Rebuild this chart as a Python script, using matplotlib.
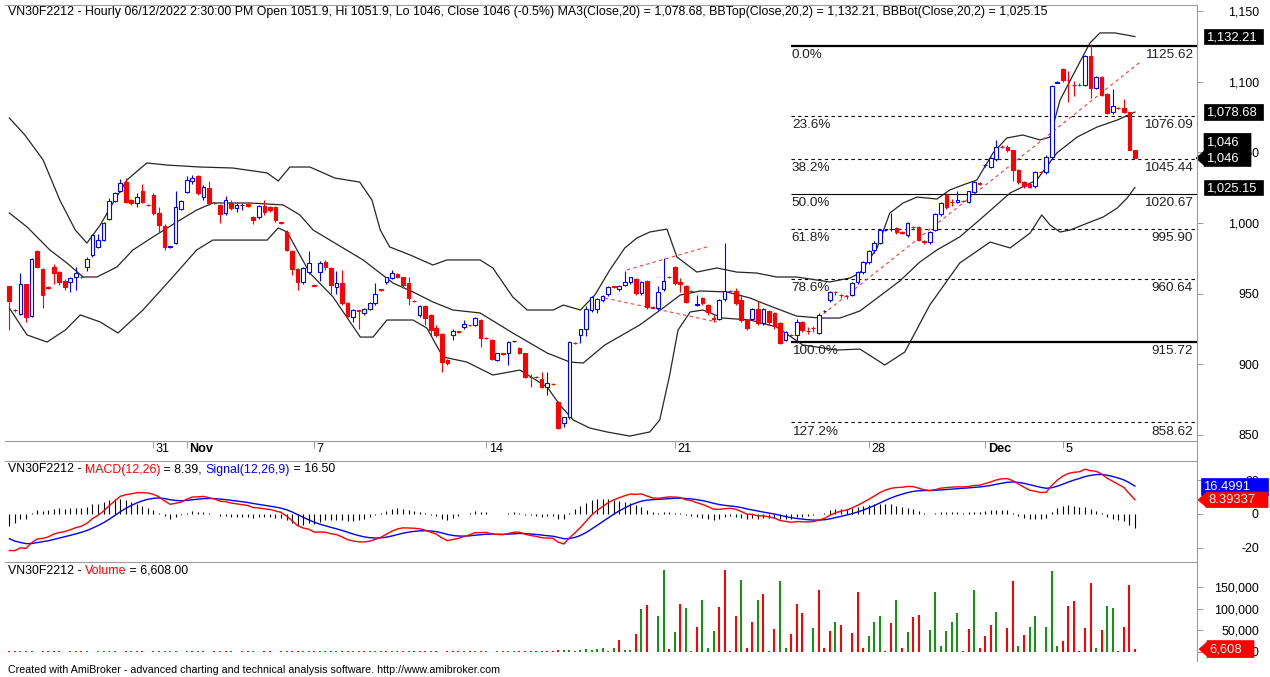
import numpy as np
import matplotlib
matplotlib.use('Agg')
import matplotlib.pyplot as plt
from matplotlib.patches import Polygon
from matplotlib.lines import Line2D
from matplotlib.ticker import FuncFormatter, FixedLocator
from matplotlib.transforms import blended_transform_factory

plt.rcParams['font.family'] = ['Liberation Sans', 'DejaVu Sans']

# ---------------- data (hourly bars VN30F2212) ----------------
opens = [955.3, 938.5, 935.5, 956.7, 934, 980, 967.4, 954.5, 968.8, 965, 959, 958, 961.7, 962, 968.8, 977.3, 983, 988, 1003, 1015.6,
         1023, 1029, 1016, 1014, 1022.7, 1013, 1020, 1007, 998, 983, 986, 1010, 1022, 1030, 1033, 1018.4, 1025, 1014.5, 1012.8, 1007,
         1014, 1010.6, 1012.6, 1013.5, 1004, 1004, 1012, 1011, 1011, 1000.5, 993.6, 980, 967.4, 958, 965, 956, 965, 972, 968, 954.6,
         957.4, 943.3, 933.3, 938, 936, 939, 943.3, 953, 958, 961, 963.8, 961.7, 957.4, 945, 934.8, 941, 934.8, 925.5, 921, 902.8,
         920.6, 923.2, 926, 927.8, 927.6, 931, 918.6, 917, 902.8, 907.8, 907.8, 916, 911.3, 907.8, 891, 891, 889.4, 883.7, 886, 873,
         858, 862.4, 915.2, 920.6, 924.8, 938.3, 939, 945.4, 949.6, 955, 953, 956, 958, 960.3, 950.4, 958.9, 940.5, 939.7, 953, 962,
         968.8, 958, 955.3, 952, 942, 946.8, 941.8, 932.4, 932, 946, 952, 951.8, 945.4, 931.2, 932, 939, 929, 937.6, 936, 929,
         917, 920.8, 920.6, 929.8, 923.6, 925.7, 922, 937.4, 945.4, 951.2, 949.2, 948.2, 949, 958, 965, 972, 981, 986, 995, 995.5,
         996.5, 993.4, 991.5, 997.2, 997, 987, 986.5, 995, 1006.4, 1020, 1015, 1015, 1015.8, 1015, 1022, 1028.4, 1040.8, 1040, 1045.4, 1054.2,
         1054, 1051.8, 1037.6, 1029, 1027.6, 1026, 1036.2, 1036, 1046.8, 1099.3, 1109, 1101.6, 1098.2, 1098.2, 1098, 1118.4, 1095.7, 1103.5, 1091.5, 1078.7,
         1081.7, 1081.5, 1078.7, 1051.9]
highs = [955.5, 939, 964.5, 957, 975, 981, 968, 955, 971, 966, 960, 961.5, 969, 962.5, 976, 992, 992, 1000.5, 1018, 1022,
         1031, 1032, 1017, 1021, 1028, 1013.5, 1021, 1011, 999, 984, 1022.7, 1016, 1033, 1034, 1034, 1027, 1030, 1015, 1013.5, 1019,
         1016.5, 1014, 1014, 1014, 1005, 1013, 1016, 1012, 1012, 1001, 995, 981, 968, 969, 980, 956.5, 973, 974, 969, 966,
         966.7, 944, 939, 938.5, 940, 944, 957.4, 953.5, 962, 967, 964.5, 962, 962, 945.5, 942, 942, 935.5, 928, 922, 903.5,
         925, 923.5, 931, 928, 933, 932, 919, 918, 908, 908, 916, 916.5, 912, 908, 893, 891.5, 894, 894, 886.5, 874,
         862.4, 916, 915.5, 925, 941, 948, 947, 949, 955, 955.5, 956, 966, 962, 961, 959, 959.5, 941, 955, 975, 962.5,
         969.5, 961, 956, 952.5, 949, 947.5, 942.5, 935, 946, 986, 952.5, 954, 949, 932, 940, 945, 940, 938.5, 937, 930,
         923.5, 921, 932, 930.5, 926, 927, 936, 938, 952, 952, 950, 949, 958, 966, 973, 981, 987, 996, 996, 1007,
         997, 994, 1001, 998, 998, 988, 994, 1007, 1015, 1021, 1017, 1023, 1016, 1023, 1030, 1029, 1041.5, 1047, 1059, 1055,
         1055, 1052, 1038, 1030, 1028, 1037, 1037, 1048, 1098, 1101, 1110, 1108, 1101, 1099, 1119, 1127, 1104, 1104, 1092, 1095,
         1082, 1088, 1079, 1051.9]
lows = [924, 937, 935, 929.8, 933, 968, 940, 953.5, 957, 956, 952.5, 951, 952.5, 961, 966, 976, 982, 987, 1002, 1015,
        1022, 1014, 1013, 1011, 1014, 1012, 1006, 993.6, 981, 982.5, 985, 1009, 1021, 1028, 1020, 1016, 1013, 1013.5, 1000, 1006,
        1009, 1008, 1009, 1011, 999, 1003, 1006, 1008, 1001, 999.5, 980, 963, 952.5, 957, 964, 955, 959, 967, 950, 950,
        942, 933, 929.8, 925, 935, 938, 942, 952, 957, 960, 961, 954, 942, 944, 933, 928, 920, 919, 894.3, 899.5,
        917, 922, 925, 927, 927, 912, 918, 903, 902, 906.5, 899, 915.5, 907, 890, 884, 890, 883, 878, 885, 854,
        855, 861, 914, 915, 920, 937, 936, 944, 948, 954, 952, 955, 957, 949, 949, 939, 939.5, 938, 952, 961,
        956, 951, 943, 951.5, 941, 942, 935, 930, 931, 945, 951, 942, 930, 924, 931, 928, 928, 928, 925, 914,
        916, 920, 915, 923, 921, 923, 921, 937, 944, 949, 947, 946, 948, 957, 964, 971, 979, 985, 994, 994,
        992, 992, 990, 996, 987, 985, 985, 994, 1005, 1010, 1012, 1014, 1015, 1014, 1021, 1027, 1040, 1039, 1044, 1053,
        1050, 1030, 1028, 1025, 1024.5, 1025, 1035.5, 1035, 1046, 1099, 1100, 1086, 1090, 1097.5, 1097, 1089, 1095, 1090, 1077, 1077.5,
        1081, 1078, 1051.5, 1046]
closes = [944.7, 938, 956.7, 933.3, 974.5, 969, 949, 954, 964.5, 958, 954.6, 961, 964.5, 961.7, 974.5, 991.5, 988, 1000, 1015.6, 1021,
          1028.4, 1015, 1014, 1018.4, 1015, 1012.8, 1007, 998.6, 983, 983.5, 1011.3, 1015.6, 1030.5, 1032, 1021, 1025.5, 1014, 1014, 1006.4, 1016.3,
          1010.6, 1012.8, 1012.8, 1012, 1002, 1012, 1008, 1009, 1002, 1000, 981, 967.4, 958, 968, 971.6, 955.3, 971.6, 969, 956, 957.4,
          943.3, 934, 938.3, 937.6, 939, 943.3, 949.6, 952.5, 961.7, 964.5, 961.7, 956, 946.8, 944.7, 941, 932.6, 924, 920.6, 901.4, 900.7,
          923.4, 923, 928.4, 927.6, 932.6, 918.4, 918.4, 903.5, 907.8, 907, 915.6, 916.3, 907.8, 890.8, 890.8, 890.8, 883.7, 886.5, 885.8, 854.6,
          862.4, 915.6, 915, 924.8, 939, 947.5, 946, 948.2, 954.6, 954.6, 955.3, 958.2, 961.7, 950.4, 958.2, 940.4, 940, 951, 958.9, 961.7,
          957.4, 956.5, 944, 951.8, 942.5, 943.3, 936.9, 932, 945.4, 951.8, 951.8, 943.3, 931.2, 925.5, 939, 929, 939, 929.8, 927, 915,
          922.7, 920.6, 929.8, 924.1, 923.4, 925.5, 934.8, 937.6, 951, 951, 949, 948, 957.4, 965, 972, 980, 986, 995, 995.2, 996,
          993.6, 993.2, 1000, 997, 988, 986.8, 993.6, 1006.4, 1014, 1011.3, 1014.8, 1016, 1015.6, 1022.7, 1029, 1028, 1041, 1046, 1054, 1054,
          1052, 1037.6, 1029, 1026, 1025.5, 1036, 1036, 1046.8, 1097, 1100, 1101.4, 1101.4, 1098, 1098, 1118.4, 1095.7, 1103.5, 1090.8, 1078, 1083,
          1081.5, 1078.7, 1051.8, 1046]

# volume in thousands of contracts, and colour flag per bar (g = up volume, r = down volume)
volume_k = [1.5, 1.5, 1.5, 1.5, 1.5, 0, 1.5, 1.5, 1.5, 1.5, 0, 1.5, 1.5, 1.5, 1.5, 0, 1.5, 1.5, 1.5, 1.5,
            0, 1.5, 1.5, 1.5, 1.5, 0, 1.5, 1.5, 1.5, 1.5, 1.5, 0, 1.5, 1.5, 1.5, 1.5, 0, 1.5, 1.5, 1.5,
            1.5, 0, 1.5, 1.5, 1.5, 0, 1.5, 1.5, 0, 1.5, 1.5, 1.5, 1.5, 1.5, 1.5, 1.5, 1.5, 1.5, 1.5, 1.5,
            1.5, 1.5, 1.5, 1.5, 1.5, 1.5, 1.5, 1.5, 1.5, 1.5, 1.5, 1.5, 1.5, 1.5, 1.5, 1.5, 1.5, 1.5, 0, 1.5,
            1.5, 1.5, 1.5, 1.5, 1.5, 1.5, 1.5, 0, 1.5, 1.5, 1.5, 1.5, 1.5, 1.5, 1.5, 1.5, 3, 3, 1.5, 5,
            4, 4, 1.5, 5, 8, 4, 8, 10, 1.5, 10, 28, 4, 4, 42, 98, 108, 0, 83, 188, 8,
            45, 111, 101, 2, 57, 119, 9, 48, 104, 188, 2, 83, 165, 9, 68, 119, 134, 2, 53, 163,
            9, 42, 110, 89, 0, 55, 142, 9, 48, 70, 61, 0, 43, 138, 9, 36, 70, 83, 2, 66,
            119, 9, 45, 81, 86, 0, 51, 138, 13, 48, 68, 89, 2, 53, 142, 9, 36, 61, 91, 0,
            55, 163, 13, 38, 58, 83, 0, 58, 186, 13, 25, 106, 117, 2, 55, 158, 9, 51, 105, 102,
            2, 58, 155, 6.608]
vol_dir = ("rrgrgrrrrrrggrggggggrrgrrrrrgggggrgrrrgrgrrrgrrrrr"
           "rrrggrgrrgrrgrrgggrgggrrrrgrrrrrgrgrgrgrggrrrrgrrr"
           "ggggggggggrggrgrrggrgrggrgggrrrrgrrgrrrggrrrggrrrg"
           "rgrrrgggrrgrgrrgggggggrrgrrrggrrgrggrgggrrrrrrgrgg"
           "rrrr")

# Bollinger bands (20,2): (bar, value)
bb_top_bar = [0, 2.8, 6.1, 9.1, 11.9, 14.0, 16.4, 18.7, 21.2, 24.8, 28.4, 34.4, 40.3, 46.5, 48.5, 50.6, 54.2, 58.7, 63.2, 65.4,
              66.9, 68.6, 72.3, 76.4, 78.9, 84.9, 87.2, 90.8, 93.4, 98.1, 99.9, 103, 105.6, 108.3, 111, 113.2, 115.5, 118.6, 120.4, 124,
              127.6, 131.2, 134.8, 138.4, 142, 148, 151.6, 153.4, 156.5, 158.8, 161.2, 163.7, 167.3, 169.6, 172, 174.5, 177.4, 179.9, 182.8, 185.9,
              187.7, 189.5, 192.6, 194.9, 196.7, 199.4, 203]
bb_top = [1074.5, 1062.4, 1044.7, 1016.3, 995, 985.8, 998.6, 1014.2, 1030.5, 1042.6, 1041.1, 1039.7, 1039, 1035.5, 1029.8, 1039.7, 1039.7, 1031.9, 1029, 1016.3,
          995, 983, 977.3, 970.2, 973.8, 973.8, 968.1, 947.5, 938.3, 938.3, 941.8, 938.3, 948.9, 966.7, 982.3, 989.4, 993.6, 995.7, 975.9, 965.2,
          968.1, 965.2, 964.5, 961.7, 961.7, 958.2, 961, 964.5, 982.3, 1007.1, 1014.2, 1018.4, 1017, 1023.4, 1027, 1030.5, 1049.6, 1060.3, 1062.4, 1058.9,
          1061, 1087.2, 1110.6, 1127.7, 1134.8, 1134.8, 1132.21]
bb_mid_bar = [0, 3.2, 7.3, 10.4, 13.3, 15.8, 19.4, 22.3, 25.9, 30.2, 33.8, 36.7, 43.4, 49.4, 52.4, 54.8, 59.3, 63.8, 69.2, 72.8,
              76.4, 80, 84.9, 90.8, 97, 101.1, 103.5, 107.4, 113.7, 117.9, 121, 124.6, 129.4, 133.6, 137.2, 142, 146.2, 149.8, 153.4, 157,
              160.6, 164.2, 167.3, 171.4, 175.6, 180.5, 185.3, 188.9, 192.6, 196.2, 199.8, 203]
bb_mid = [1007.1, 997.2, 980.9, 971.6, 961.7, 961.7, 968.8, 980.9, 990.1, 1000.7, 1009.2, 1014.2, 1014.2, 1012.8, 1005.7, 995, 984.4, 973.8, 957.4, 951.1,
          944, 938.3, 936.2, 922, 907.8, 901.4, 900.7, 913.5, 927.7, 939.7, 948.9, 951.8, 951.1, 946.8, 941.1, 934, 932.6, 932.6, 937.6, 948.2,
          958.9, 972.3, 980.9, 990.1, 1004.3, 1021.3, 1030.5, 1049.6, 1061, 1068.1, 1073, 1078.68]
bb_bot_bar = [0, 3.2, 6.8, 10.1, 12.8, 16.4, 19.6, 24.1, 29, 33.8, 36.7, 46.5, 48.5, 50.1, 54.2, 58.4, 63.3, 65.6, 68.1, 72.8,
              75.3, 78.2, 82.5, 87.2, 92.1, 97, 99.3, 101.7, 104.7, 107.8, 111.9, 115.5, 117.3, 119.1, 120.6, 122.8, 125.1, 128.7, 133.6, 138.4,
              143.1, 149.3, 153.4, 157.9, 161.5, 166, 171.4, 176.9, 180.5, 184.1, 186.2, 187.7, 189.5, 191.3, 193.6, 197.3, 199.8, 201.6, 203]
bb_bot = [939.7, 920.6, 915.6, 924.1, 934.8, 929.8, 922, 938.3, 959.6, 980.9, 987.9, 987.9, 996.5, 993.6, 964.5, 947.5, 919.1, 919.1, 931.2, 931.2,
          925.5, 905, 901.4, 892.2, 895.7, 883.7, 870.9, 860.3, 854.6, 851.8, 848.9, 851.8, 860.3, 892.2, 924.1, 936.9, 938.3, 932.6, 931.2, 926.2,
          913.5, 909.9, 910.6, 899.3, 908.5, 941.8, 971.6, 986.5, 982.3, 992.9, 1005.7, 998.6, 993.6, 995, 998.6, 1004.3, 1010.6, 1017.7, 1025.15]

# Fibonacci retracement (drawn from the swing low to the swing high)
fib_pct = [0.0, 23.6, 38.2, 50.0, 61.8, 78.6, 100.0, 127.2]
fib_val = [1125.62, 1076.09, 1045.44, 1020.67, 995.90, 960.64, 915.72, 858.62]
fib_start_bar = 141

# red dashed trend lines: (bar0, price0, bar1, price1)
trend_lines = [(145.9, 932.6, 203.9, 1114.0),
               (111.4, 966.7, 126.4, 983.7),
               (107.4, 946.8, 127.6, 929.8)]

# MACD(12,26,9) — EMA states just before the first visible bar
ema12_start, ema26_start, signal_start = 962.0, 984.0, -13.0
# last values as printed on the chart
macd_last, signal_last = 8.39337, 16.4991
volume_last = 6608.0

date_tick_bars = [26, 32, 55, 86, 120, 155, 176, 190]
date_tick_labels = ['31', 'Nov', '7', '14', '21', '28', 'Dec', '5']

title_price = ("VN30F2212 - Hourly 06/12/2022 2:30:00 PM Open 1051.9, Hi 1051.9, Lo 1046, Close 1046 (-0.5%) "
               "MA3(Close,20) = 1,078.68, BBTop(Close,20,2) = 1,132.21, BBBot(Close,20,2) = 1,025.15")

# ---------------- figure ----------------
W, H = 1270, 677
fig = plt.figure(figsize=(W / 100, H / 100), dpi=100)
fig.patch.set_facecolor('white')


def rect(l, t, r, b):
    return [l / W, 1 - b / H, (r - l) / W, (b - t) / H]


ax_p = fig.add_axes(rect(5, 5, 1197, 441))
ax_m = fig.add_axes(rect(5, 461, 1197, 561))
ax_v = fig.add_axes(rect(5, 562, 1197, 660))

N = len(closes)
x = np.arange(N)
o = np.array(opens); h = np.array(highs); l = np.array(lows); c = np.array(closes)
XL = (-0.78, 214.2)

GRID = '#9c9c9c'
FS_T = 8.88     # titles
FS_AX = 8.9     # axis labels
FS_FIB = 9.7
BLUE = '#0000ff'
RED = '#ff0000'
GREEN = '#129612'

for a in (ax_p, ax_m, ax_v):
    a.set_xlim(*XL)
    for s in ('left', 'top', 'bottom'):
        a.spines[s].set_visible(False)
    a.spines['right'].set_visible(False)
    a.yaxis.tick_right()
    a.tick_params(axis='y', which='both', length=4, width=0.7, color=GRID, labelsize=FS_AX, pad=40.5,
                  labelcolor='#000000')
    a.set_xticks([])
    a.patch.set_alpha(0)

ax_p.spines['top'].set_visible(True)
ax_p.spines['bottom'].set_visible(True)
ax_m.spines['top'].set_visible(True)
ax_v.spines['top'].set_visible(True)
for a in (ax_p, ax_m, ax_v):
    for s in ('top', 'bottom'):
        a.spines[s].set_linewidth(0.8)
        a.spines[s].set_color(GRID)

# ---- price pane ----
ax_p.set_ylim(845.4, 1154.6)
ax_p.yaxis.set_major_locator(FixedLocator([850, 900, 950, 1000, 1050, 1100, 1150]))
ax_p.yaxis.set_major_formatter(FuncFormatter(lambda v, p: f'{v:,.0f}'))

up = c >= o
wick_cols = np.where(up, BLUE, RED)
ax_p.vlines(x, l, h, colors=wick_cols, linewidth=0.8, zorder=3)
body_h = np.where(np.abs(c - o) < 0.01, 0.01, c - o)
ax_p.bar(x[up], body_h[up], bottom=o[up], width=0.66, facecolor='white', edgecolor=BLUE,
         linewidth=0.8, zorder=4)
ax_p.bar(x[~up], body_h[~up], bottom=o[~up], width=0.66, facecolor=RED, edgecolor=RED,
         linewidth=0.8, zorder=4)

band_col = '#262626'
ax_p.plot(bb_top_bar, bb_top, color=band_col, lw=0.9, zorder=2)
ax_p.plot(bb_mid_bar, bb_mid, color=band_col, lw=0.9, zorder=2)
ax_p.plot(bb_bot_bar, bb_bot, color=band_col, lw=0.9, zorder=2)

for b0, p0, b1, p1 in trend_lines:
    ax_p.plot([b0, b1], [p0, p1], color='#ff3b3b', lw=0.8, dashes=(3, 3), zorder=2)

for pct, val in zip(fib_pct, fib_val):
    if pct in (0.0, 100.0):
        ax_p.hlines(val, fib_start_bar, XL[1], color='black', lw=1.6, zorder=1)
    elif pct == 50.0:
        ax_p.hlines(val, fib_start_bar, XL[1], color='black', lw=0.8, zorder=1)
    else:
        ax_p.hlines(val, fib_start_bar, XL[1], color='black', lw=0.8, linestyles=(0, (3, 3)), zorder=1)
    ax_p.annotate(f'{pct:.1f}%', xy=(fib_start_bar, val), xytext=(0.5, -2.5), textcoords='offset points',
                  ha='left', va='top', fontsize=FS_FIB, color='#222222', zorder=1)
    ax_p.annotate(f'{val:.2f}', xy=(1.0, val), xycoords=('axes fraction', 'data'), xytext=(-3, -2.5),
                  textcoords='offset points', ha='right', va='top', fontsize=FS_FIB, color='#222222', zorder=1)

# title
ax_p.text(3 / 1192, 1 - 1.5 / 436, title_price, transform=ax_p.transAxes, ha='left', va='top',
          fontsize=FS_T, color='black')

# date axis
ax_p.set_xticks(date_tick_bars)
ax_p.tick_params(axis='x', direction='out', length=5, width=0.7, color=GRID, labelbottom=False)
tr = blended_transform_factory(ax_p.transData, ax_p.transAxes)
for b, lab in zip(date_tick_bars, date_tick_labels):
    ax_p.text(b + 0.45, -0.005, lab, transform=tr, ha='left', va='top', fontsize=FS_AX + 0.2,
              fontweight='bold' if lab.isalpha() else 'normal', color='black')

# ---- MACD pane ----
cl = np.array(closes)
e12 = np.empty(N); e26 = np.empty(N); sig = np.empty(N)
a12, a26, a9 = 2 / 13, 2 / 27, 2 / 10
p12, p26, ps = ema12_start, ema26_start, signal_start
for i in range(N):
    p12 = p12 + a12 * (cl[i] - p12)
    p26 = p26 + a26 * (cl[i] - p26)
    e12[i], e26[i] = p12, p26
    ps = ps + a9 * ((p12 - p26) - ps)
    sig[i] = ps
macd = e12 - e26
hist = macd - sig

ax_m.set_ylim(-28.0, 31.5)
ax_m.yaxis.set_major_locator(FixedLocator([-20, 0, 20]))
ax_m.yaxis.set_major_formatter(FuncFormatter(lambda v, p: f'{v:.0f}'))
ax_m.vlines(x, 0, hist, colors='black', linewidth=0.8, zorder=2)
ax_m.plot(x, sig, color=BLUE, lw=1.0, zorder=3)
ax_m.plot(x, macd, color=RED, lw=1.0, zorder=3)


def multi_text(ax, parts, xf, yf):
    r = fig.canvas.get_renderer()
    xx = xf
    axw = ax.get_window_extent(renderer=r).width
    for s, col in parts:
        t = ax.text(xx, yf, s, transform=ax.transAxes, ha='left', va='top', fontsize=FS_T, color=col)
        bb = t.get_window_extent(renderer=r)
        xx += bb.width / axw


multi_text(ax_m, [('VN30F2212 - ', 'black'), ('MACD(12,26)', RED), (f' = {macd_last:.2f}, ', 'black'),
                  ('Signal(12,26,9)', BLUE), (f' = {signal_last:.2f}', 'black')], 3 / 1192, 1 - 2.5 / 100)

# ---- volume pane ----
vol = np.array(volume_k) * 1000
vcols = [GREEN if d == 'g' else RED for d in vol_dir[:N]]
ax_v.set_ylim(-18400, 207000)
ax_v.yaxis.set_major_locator(FixedLocator([0, 50000, 100000, 150000]))
ax_v.yaxis.set_major_formatter(FuncFormatter(lambda v, p: f'{v:,.0f}'))
ax_v.bar(x, vol, width=0.36, color=vcols, linewidth=0, zorder=2)
multi_text(ax_v, [('VN30F2212 - ', 'black'), ('Volume', RED), (f' = {volume_last:,.2f}', 'black')],
           3 / 1192, 1 - 2.5 / 98)

# right aligned axis labels
for a in (ax_p, ax_m, ax_v):
    for t in a.get_yticklabels():
        t.set_horizontalalignment('right')

# ---- overlay: continuous right axis line and value boxes ----
ov = fig.add_axes([0, 0, 1, 1], zorder=10)
ov.set_xlim(0, W); ov.set_ylim(H, 0); ov.axis('off'); ov.patch.set_alpha(0)
ov.add_line(Line2D([1197, 1197], [5, 661], color=GRID, lw=0.8))


def ypx(ax, v):
    return H - ax.transData.transform((0, v))[1]


def value_box(ax, v, lines, face, x0, x1, arrow=False, h=15.5):
    yc = ypx(ax, v)
    n = len(lines)
    top = yc - h / 2 - (n - 1) * h
    bot = yc + h / 2
    if arrow:
        pts = [(x0, top), (x1, top), (x1, bot), (x0, bot), (x0, yc + 7), (x0 - 8, yc), (x0, yc - 7)]
    else:
        pts = [(x0, top), (x1, top), (x1, bot), (x0, bot)]
    ov.add_patch(Polygon(pts, closed=True, facecolor=face, edgecolor=face, lw=0.5))
    for k, s in enumerate(lines):
        ov.text(x0 + 2.5, top + h * (k + 0.5) + 0.5, s, ha='left', va='center', fontsize=9.4, color='white')


value_box(ax_p, 1132.21, ['1,132.21'], 'black', 1204, 1263)
value_box(ax_p, 1078.68, ['1,078.68'], 'black', 1204, 1263)
value_box(ax_p, 1046.0, ['1,046', '1,046'], 'black', 1204, 1251, arrow=True, h=16.5)
value_box(ax_p, 1025.15, ['1,025.15'], 'black', 1204, 1263)
value_box(ax_m, signal_last, [f'{signal_last:.4f}'], BLUE, 1201, 1268, h=17)
value_box(ax_m, macd_last, [f'{macd_last:.5f}'], RED, 1206, 1268, arrow=True)
value_box(ax_v, volume_last, [f'{volume_last:,.0f}'], RED, 1207, 1254, arrow=True, h=17)

fig.text(8 / W, 1 - 670 / H, 'Created with AmiBroker - advanced charting and technical analysis software. http://www.amibroker.com',
         ha='left', va='center', fontsize=7.7, color='black')

fig.savefig('out.png', dpi=100, facecolor='white')
